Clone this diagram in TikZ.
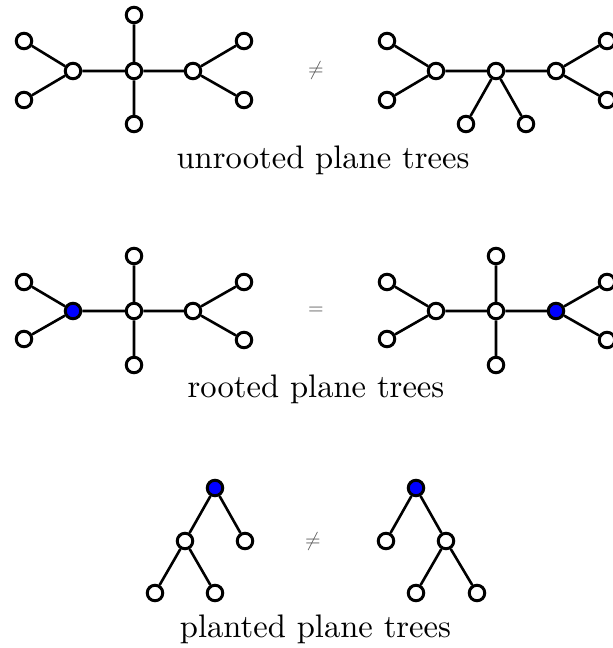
\documentclass[tikz,border=0pt]{standalone}
\usepackage{graphicx}
\tikzset{
  vtx/.style={circle, draw=black, line width=3pt, fill=white, inner sep=0pt, minimum size=15.5pt},
  rootvtx/.style={vtx, fill=blue},
  edg/.style={line width=2.6pt, black},
  rel/.style={text=black!68, inner sep=0pt},
  lbl/.style={anchor=base, inner sep=0pt}
}
\begin{document}
\begin{tikzpicture}[x=1pt,y=-1pt]
\path[use as bounding box, clip] (0,0) rectangle (613,648);
% ---------- row 1 left ----------
\node[vtx] (a0) at (134,71) {};
\node[vtx] (a1) at (73,71) {};
\node[vtx] (a2) at (193,71) {};
\node[vtx] (a3) at (24,41) {};
\node[vtx] (a4) at (24,100) {};
\node[vtx] (a5) at (134,15) {};
\node[vtx] (a6) at (134,124) {};
\node[vtx] (a7) at (244,41) {};
\node[vtx] (a8) at (244,100) {};
\draw[edg] (a1) -- (a0) (a0) -- (a2) (a1) -- (a3) (a1) -- (a4)
  (a0) -- (a5) (a0) -- (a6) (a2) -- (a7) (a2) -- (a8);
\node[rel] (r1) at (316,70) {\scalebox{2}{$\neq$}};
% ---------- row 1 right ----------
\node[vtx] (b0) at (496,71) {};
\node[vtx] (b1) at (436,71) {};
\node[vtx] (b2) at (556,71) {};
\node[vtx] (b3) at (387,41) {};
\node[vtx] (b4) at (387,100) {};
\node[vtx] (b5) at (466,124) {};
\node[vtx] (b6) at (526,124) {};
\node[vtx] (b7) at (607,41) {};
\node[vtx] (b8) at (607,100) {};
\draw[edg] (b1) -- (b0) (b0) -- (b2) (b1) -- (b3) (b1) -- (b4)
  (b0) -- (b5) (b0) -- (b6) (b2) -- (b7) (b2) -- (b8);
\node[lbl] (t1) at (323,168) {\scalebox{3.26}{unrooted plane trees}};
% ---------- row 2 left ----------
\node[vtx] (c0) at (134,311) {};
\node[rootvtx] (c1) at (73,311) {};
\node[vtx] (c2) at (193,311) {};
\node[vtx] (c3) at (24,282) {};
\node[vtx] (c4) at (24,339) {};
\node[vtx] (c5) at (134,256) {};
\node[vtx] (c6) at (134,365) {};
\node[vtx] (c7) at (244,282) {};
\node[vtx] (c8) at (244,340) {};
\draw[edg] (c1) -- (c0) (c0) -- (c2) (c1) -- (c3) (c1) -- (c4)
  (c0) -- (c5) (c0) -- (c6) (c2) -- (c7) (c2) -- (c8);
\node[rel] (r2) at (316,311) {\scalebox{2}{$=$}};
% ---------- row 2 right ----------
\node[vtx] (d0) at (496,311) {};
\node[vtx] (d1) at (436,311) {};
\node[rootvtx] (d2) at (556,311) {};
\node[vtx] (d3) at (387,282) {};
\node[vtx] (d4) at (387,339) {};
\node[vtx] (d5) at (496,256) {};
\node[vtx] (d6) at (496,365) {};
\node[vtx] (d7) at (607,282) {};
\node[vtx] (d8) at (607,340) {};
\draw[edg] (d1) -- (d0) (d0) -- (d2) (d1) -- (d3) (d1) -- (d4)
  (d0) -- (d5) (d0) -- (d6) (d2) -- (d7) (d2) -- (d8);
\node[lbl] (t2) at (316,397) {\scalebox{3.26}{rooted plane trees}};
% ---------- row 3 left ----------
\node[rootvtx] (e0) at (215,488) {};
\node[vtx] (e1) at (185,541) {};
\node[vtx] (e2) at (245,541) {};
\node[vtx] (e3) at (155,593) {};
\node[vtx] (e4) at (215,593) {};
\draw[edg] (e0) -- (e1) (e0) -- (e2) (e1) -- (e3) (e1) -- (e4);
\node[rel] (r3) at (313,541) {\scalebox{2}{$\neq$}};
% ---------- row 3 right ----------
\node[rootvtx] (f0) at (416,488) {};
\node[vtx] (f1) at (386,541) {};
\node[vtx] (f2) at (446,541) {};
\node[vtx] (f3) at (416,593) {};
\node[vtx] (f4) at (477,593) {};
\draw[edg] (f0) -- (f1) (f0) -- (f2) (f2) -- (f3) (f2) -- (f4);
\node[lbl] (t3) at (315.5,637) {\scalebox{3.26}{planted plane trees}};
\end{tikzpicture}
\end{document}
